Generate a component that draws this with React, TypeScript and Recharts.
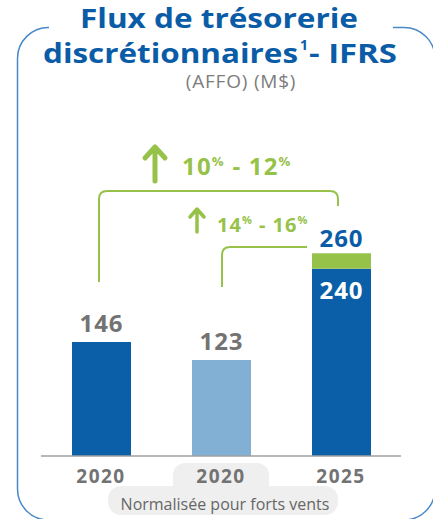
import React from 'react';
import { Bar, BarChart, Cell, LabelList, XAxis, YAxis } from 'recharts';

// values
const categories = ['2020', '2020', '2025'];
const subLabels = ['', 'Normalisée pour forts vents', ''];
const baseValues = [146, 123, 240];
const upliftValues = [0, 0, 20];
const baseColors = ['#0a5fa8', '#82afd4', '#0a5fa8'];
const growthLabels = [
  { from: '10', to: '12' },
  { from: '14', to: '16' },
];

const data = categories.map((year, i) => ({
  key: `${year}-${i}`,
  year,
  sub: subLabels[i],
  base: baseValues[i],
  uplift: upliftValues[i],
  total: baseValues[i] + upliftValues[i],
}));

const FONT = '"Open Sans", "DejaVu Sans", sans-serif';
const BLUE = '#0b5ca6';
const GREEN = '#97c24a';
const GRAY = '#737373';

const BaseLabel = (props: any) => {
  const { x, y, width, value, index } = props;
  const cx = x + width / 2;
  const inside = index === 2;
  return (
    <text
      x={cx}
      y={inside ? y + 30 : y - 10}
      textAnchor="middle"
      fill={inside ? '#fff' : GRAY}
      fontFamily={FONT}
      fontWeight={700}
      fontSize={24}
      letterSpacing={1}
    >
      {value}
    </text>
  );
};

// total shown above the stacked segment, only where the segment exists
const TotalLabel = (props: any) => {
  const { x, y, width, height, value } = props;
  if (!height || Math.abs(height) < 1) return null;
  return (
    <text x={x + width / 2} y={y - 6} textAnchor="middle" fill={BLUE} fontFamily={FONT} fontWeight={700} fontSize={24} letterSpacing={1}>
      {value}
    </text>
  );
};

const YearTick = (props: any) => {
  const { x, y, index } = props;
  const row = data[index];
  if (!row) return null;
  return (
    <g>
      <text x={x} y={y + 19} textAnchor="middle" fill={GRAY} fontFamily={FONT} fontWeight={700} fontSize={19} letterSpacing={1.5}>
        {row.year}
      </text>
      {row.sub ? (
        <text x={x + 4} y={y + 46} textAnchor="middle" fill="#666" fontFamily={FONT} fontSize={16}>
          {row.sub}
        </text>
      ) : null}
    </g>
  );
};

function Percent({ from, to, size }: { from: string; to: string; size: number }) {
  const sup = size * 0.55;
  const up = size * 0.38;
  return (
    <>
      <tspan>{from}</tspan>
      <tspan fontSize={sup} dy={-up}>%</tspan>
      <tspan dy={up}>{' - ' + to}</tspan>
      <tspan fontSize={sup} dy={-up}>%</tspan>
    </>
  );
}

function Backdrop() {
  return (
    <svg width={433} height={519} style={{ position: 'absolute', left: 0, top: 0 }}>
      {/* outer frame, open at the top behind the title */}
      <path
        d="M 49 27.5 A 31 31 0 0 0 17.5 58.5 V 489 A 31 31 0 0 0 48.5 520 H 404 A 31 31 0 0 0 435 489 V 58.5 A 31 31 0 0 0 404 27.5 H 393"
        fill="none"
        stroke="#4a88c8"
        strokeWidth={1.5}
      />
      {/* grey tab behind the normalised category */}
      <rect x={173} y={463} width={96} height={40} rx={12} fill="#efefef" />
      <rect x={108} y={486} width={230} height={29} rx={13} fill="#efefef" />

      <text x={80} y={28} textLength={278} lengthAdjust="spacingAndGlyphs" fill={BLUE} fontFamily={FONT} fontWeight={700} fontSize={26}>
        Flux de trésorerie
      </text>
      <text x={43} y={63} textLength={255} lengthAdjust="spacingAndGlyphs" fill={BLUE} fontFamily={FONT} fontWeight={700} fontSize={26}>
        discrétionnaires
      </text>
      <text x={300} y={50} fill={BLUE} fontFamily={FONT} fontWeight={700} fontSize={14}>
        1
      </text>
      <text x={309} y={63} textLength={88} lengthAdjust="spacingAndGlyphs" fill={BLUE} fontFamily={FONT} fontWeight={700} fontSize={26}>
        - IFRS
      </text>
      <text x={241} y={88} textAnchor="middle" fill="#7d7d7d" fontFamily={FONT} fontSize={19} letterSpacing={0.8}>
        (AFFO) (M$)
      </text>

      {/* growth brackets */}
      <path d="M 99 282 V 199 Q 99 191 107 191 H 330 Q 338 191 338 199 V 206" fill="none" stroke={GREEN} strokeWidth={2} />
      <path d="M 222 287 V 255 Q 222 247 230 247 H 307" fill="none" stroke={GREEN} strokeWidth={2} />

      <path d="M 155 181 V 148 M 145 158 L 155 147 L 165 158" fill="none" stroke={GREEN} strokeWidth={5} strokeLinecap="round" strokeLinejoin="round" />
      <text x={182} y={175} fill={GREEN} fontFamily={FONT} fontWeight={700} fontSize={24} letterSpacing={1.2}>
        <Percent from={growthLabels[0].from} to={growthLabels[0].to} size={24} />
      </text>
      <path d="M 197 232 V 210 M 190 217 L 197 209 L 204 217" fill="none" stroke={GREEN} strokeWidth={3.5} strokeLinecap="round" strokeLinejoin="round" />
      <text x={217} y={232} fill={GREEN} fontFamily={FONT} fontWeight={700} fontSize={20} letterSpacing={1}>
        <Percent from={growthLabels[1].from} to={growthLabels[1].to} size={20} />
      </text>
    </svg>
  );
}

export default function App() {
  return (
    <div style={{ position: 'fixed', left: 0, top: 0, width: 433, height: 519, background: '#fff' }}>
      <Backdrop />
      <div style={{ position: 'absolute', left: 0, top: 0 }}>
        <BarChart width={433} height={519} data={data} margin={{ top: 222, right: 32, bottom: 0, left: 41 }}>
          <XAxis
            dataKey="key"
            height={63}
            tickLine={false}
            axisLine={{ stroke: '#a0a0a0', strokeWidth: 1.5 }}
            tick={YearTick}
            interval={0}
          />
          <YAxis hide domain={[0, 300]} />
          <Bar dataKey="base" stackId="a" barSize={59} isAnimationActive={false}>
            {data.map((d, i) => (
              <Cell key={d.key} fill={baseColors[i]} />
            ))}
            <LabelList dataKey="base" content={BaseLabel} />
          </Bar>
          <Bar dataKey="uplift" stackId="a" barSize={59} fill={GREEN} isAnimationActive={false}>
            <LabelList dataKey="total" content={TotalLabel} />
          </Bar>
        </BarChart>
      </div>
    </div>
  );
}
